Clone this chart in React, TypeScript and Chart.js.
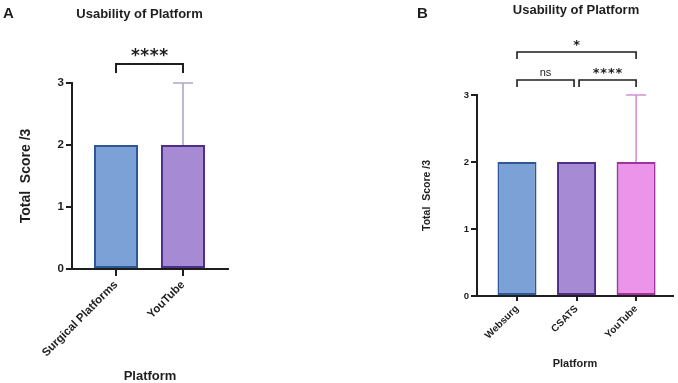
import React, { useEffect, useRef } from 'react';
import { Chart, registerables } from 'chart.js';

Chart.register(...registerables);

// ---------- data ----------
const categoriesA = ['Surgical Platforms', 'YouTube'];
const meansA = [2, 2];
const sdUpA = [0, 1];
const comparisonsA = [{ from: 0, to: 1, label: '****', tier: 0 }];

const categoriesB = ['Websurg', 'CSATS', 'YouTube'];
const meansB = [2, 2, 2];
const sdUpB = [0, 0, 1];
const comparisonsB = [
  { from: 0, to: 1, label: 'ns', tier: 0 },
  { from: 1, to: 2, label: '****', tier: 0 },
  { from: 0, to: 2, label: '*', tier: 1 },
];

const yTitle = 'Total  Score /3';
const xTitle = 'Platform';
const chartTitle = 'Usability of Platform';

// ---------- styles ----------
const FONT = "'Liberation Sans', Arial, Helvetica, sans-serif";
const INK = '#1e1e1e';
const BLUE = '#7ca1d7';
const BLUE_EDGE = '#2e5795';
const PURPLE = '#a68ad3';
const PURPLE_EDGE = '#4f2d8a';
const PINK = '#ec94ea';
const PINK_EDGE = '#a2329c';

Chart.defaults.font.family = FONT;

type Comp = { from: number; to: number; label: string; tier: number };
type OverlayCfg = {
  means: number[];
  sd: number[];
  errColor: string;
  errWidth: number;
  cap: number;
  comps: Comp[];
  tierOffsets: number[];
  leg: number;
  bracketWidth: number;
  starSize: number;
  starSpacing: number;
  starGap: number;
  nsSize: number;
  letter: string;
  letterX: number;
  letterY: number;
  letterSize: number;
  titleX: number;
  titleY: number;
  titleSize: number;
};

function makeOverlay(c: OverlayCfg) {
  return {
    id: 'overlay',
    beforeDatasetsDraw(chart: any) {
      const ctx = chart.ctx;
      const xs = chart.scales.x;
      const ys = chart.scales.y;
      ctx.save();
      ctx.strokeStyle = c.errColor;
      ctx.lineWidth = c.errWidth;
      c.sd.forEach((sd, i) => {
        if (!sd) return;
        const px = xs.getPixelForValue(i);
        const y0 = ys.getPixelForValue(c.means[i]);
        const y1 = ys.getPixelForValue(c.means[i] + sd);
        ctx.beginPath();
        ctx.moveTo(px, y0);
        ctx.lineTo(px, y1);
        ctx.moveTo(px - c.cap / 2, y1);
        ctx.lineTo(px + c.cap / 2, y1);
        ctx.stroke();
      });
      ctx.restore();
    },
    afterDraw(chart: any) {
      const ctx = chart.ctx;
      const xs = chart.scales.x;
      const top = chart.chartArea.top;
      ctx.save();
      ctx.strokeStyle = INK;
      ctx.fillStyle = INK;
      ctx.lineWidth = c.bracketWidth;
      c.comps.forEach((cp) => {
        const shared = (idx: number) =>
          c.comps.some((o) => o !== cp && o.tier === cp.tier && (o.from === idx || o.to === idx));
        let x0 = xs.getPixelForValue(cp.from);
        let x1 = xs.getPixelForValue(cp.to);
        if (shared(cp.from)) x0 += 2.5;
        if (shared(cp.to)) x1 -= 2.5;
        const by = top - c.tierOffsets[cp.tier];
        ctx.beginPath();
        ctx.moveTo(x0, by + c.leg);
        ctx.lineTo(x0, by);
        ctx.lineTo(x1, by);
        ctx.lineTo(x1, by + c.leg);
        ctx.stroke();
        const cx = (x0 + x1) / 2;
        ctx.textAlign = 'center';
        ctx.textBaseline = 'alphabetic';
        if (cp.label === 'ns') {
          ctx.font = `normal ${c.nsSize}px ${FONT}`;
          (ctx as any).letterSpacing = '0px';
          ctx.fillText(cp.label, cx, by - 4);
        } else {
          ctx.font = `bold ${c.starSize}px 'DejaVu Sans', ${FONT}`;
          (ctx as any).letterSpacing = `${c.starSpacing}px`;
          const m = ctx.measureText(cp.label);
          const w = m.width;
          const desc = m.actualBoundingBoxDescent || 0;
          ctx.textAlign = 'left';
          ctx.fillText(cp.label, cx - (w - c.starSpacing) / 2, by - c.starGap - desc);
          (ctx as any).letterSpacing = '0px';
        }
      });
      ctx.textAlign = 'center';
      ctx.textBaseline = 'middle';
      ctx.font = `bold ${c.titleSize}px ${FONT}`;
      ctx.fillText(chartTitle, c.titleX, c.titleY);
      ctx.textAlign = 'left';
      ctx.font = `bold ${c.letterSize}px ${FONT}`;
      ctx.fillText(c.letter, c.letterX, c.letterY);
      ctx.restore();
    },
  };
}

function buildConfig(p: {
  categories: string[];
  means: number[];
  fills: string[];
  edges: string[];
  pad: { left: number; right: number; top: number; bottom: number };
  xMin: number;
  xMax: number;
  xHeight: number;
  yWidth: number;
  barPct: number;
  xTickSize: number;
  xTickLen: number;
  yTickSize: number;
  yTickLen: number;
  yTitleSize: number;
  yTitlePad: number;
  xTitleSize: number;
  xTitlePad: number;
  axisWidth: number;
  overlay: OverlayCfg;
}) {
  return {
    type: 'bar' as const,
    data: {
      datasets: [
        {
          data: p.means.map((v, i) => ({ x: i, y: v })),
          backgroundColor: p.fills,
          borderColor: p.edges,
          borderWidth: 2,
          borderSkipped: false,
          barPercentage: p.barPct,
          categoryPercentage: 1,
        },
      ],
    },
    options: {
      responsive: false,
      animation: false as const,
      layout: { padding: p.pad },
      plugins: { legend: { display: false }, tooltip: { enabled: false }, title: { display: false } },
      scales: {
        x: {
          type: 'linear' as const,
          min: p.xMin,
          max: p.xMax,
          offset: false,
          afterBuildTicks: (s: any) => {
            s.ticks = p.categories.map((_, i) => ({ value: i }));
          },
          afterFit: (s: any) => {
            s.height = p.xHeight;
          },
          grid: {
            display: true,
            drawOnChartArea: false,
            drawTicks: true,
            tickLength: p.xTickLen,
            color: INK,
            lineWidth: p.axisWidth,
            offset: false,
          },
          border: { display: true, color: INK, width: p.axisWidth },
          ticks: {
            autoSkip: false,
            maxRotation: 45,
            minRotation: 45,
            color: INK,
            padding: 2,
            font: { size: p.xTickSize, weight: 'bold' as const },
            callback: (v: any) => p.categories[Math.round(Number(v))] ?? '',
          },
          title: {
            display: true,
            text: xTitle,
            color: INK,
            font: { size: p.xTitleSize, weight: 'bold' as const, lineHeight: 1 },
            padding: { top: 0, bottom: p.xTitlePad },
          },
        },
        y: {
          min: 0,
          max: 3,
          afterFit: (s: any) => {
            s.width = p.yWidth;
          },
          ticks: {
            stepSize: 1,
            color: INK,
            padding: 2,
            font: { size: p.yTickSize, weight: 'bold' as const },
          },
          grid: {
            display: true,
            drawOnChartArea: false,
            drawTicks: true,
            tickLength: p.yTickLen,
            color: INK,
            lineWidth: p.axisWidth,
          },
          border: { display: true, color: INK, width: p.axisWidth },
          title: {
            display: true,
            text: yTitle,
            color: INK,
            font: { size: p.yTitleSize, weight: 'bold' as const, lineHeight: 1 },
            padding: { top: p.yTitlePad, bottom: 0 },
          },
        },
      },
    },
    plugins: [makeOverlay(p.overlay)],
  };
}

function Panel({ cfg, left }: { cfg: any; left: number }) {
  const ref = useRef<HTMLCanvasElement | null>(null);
  useEffect(() => {
    if (!ref.current) return;
    const chart = new Chart(ref.current, cfg);
    return () => chart.destroy();
  }, [cfg]);
  return (
    <canvas
      ref={ref}
      width={339}
      height={383}
      style={{ position: 'absolute', left, top: 0, width: 339, height: 383, display: 'block' }}
    />
  );
}

const cfgA = buildConfig({
  categories: categoriesA,
  means: meansA,
  fills: [BLUE, PURPLE],
  edges: [BLUE_EDGE, PURPLE_EDGE],
  pad: { left: 0, right: 111, top: 83, bottom: 0 },
  xMin: -0.657,
  xMax: 1.672,
  xHeight: 114,
  yWidth: 72,
  barPct: 0.657,
  xTickSize: 11.5,
  xTickLen: 7,
  yTickSize: 11.5,
  yTickLen: 6,
  yTitleSize: 14,
  yTitlePad: 19,
  xTitleSize: 13,
  xTitlePad: 0,
  axisWidth: 2,
  overlay: {
    means: meansA,
    sd: sdUpA,
    errColor: '#b0a5cf',
    errWidth: 1.6,
    cap: 20,
    comps: comparisonsA,
    tierOffsets: [19],
    leg: 9,
    bracketWidth: 2,
    starSize: 17,
    starSpacing: 0.5,
    starGap: 7,
    nsSize: 11,
    letter: 'A',
    letterX: 3,
    letterY: 14,
    letterSize: 15,
    titleX: 139.5,
    titleY: 14,
    titleSize: 13,
  },
});

const cfgB = buildConfig({
  categories: categoriesB,
  means: meansB,
  fills: [BLUE, PURPLE, PINK],
  edges: [BLUE_EDGE, PURPLE_EDGE, PINK_EDGE],
  pad: { left: 0, right: 5, top: 95, bottom: 0 },
  xMin: -0.672,
  xMax: 2.62,
  xHeight: 87,
  yWidth: 138,
  barPct: 0.655,
  xTickSize: 10,
  xTickLen: 5,
  yTickSize: 9.5,
  yTickLen: 6,
  yTitleSize: 10.5,
  yTitlePad: 82.7,
  xTitleSize: 11,
  xTitlePad: 13.5,
  axisWidth: 2,
  overlay: {
    means: meansB,
    sd: sdUpB,
    errColor: '#d690d6',
    errWidth: 1.6,
    cap: 20,
    comps: comparisonsB,
    tierOffsets: [15, 43],
    leg: 7,
    bracketWidth: 1.6,
    starSize: 13,
    starSpacing: 0.8,
    starGap: 6,
    nsSize: 11,
    letter: 'B',
    letterX: 78,
    letterY: 14,
    letterSize: 15,
    titleX: 237,
    titleY: 10,
    titleSize: 13,
  },
});

export default function App() {
  return (
    <div style={{ position: 'absolute', left: 0, top: 0, width: 678, height: 383, background: '#fff', overflow: 'hidden' }}>
      <Panel cfg={cfgA} left={0} />
      <Panel cfg={cfgB} left={339} />
    </div>
  );
}
